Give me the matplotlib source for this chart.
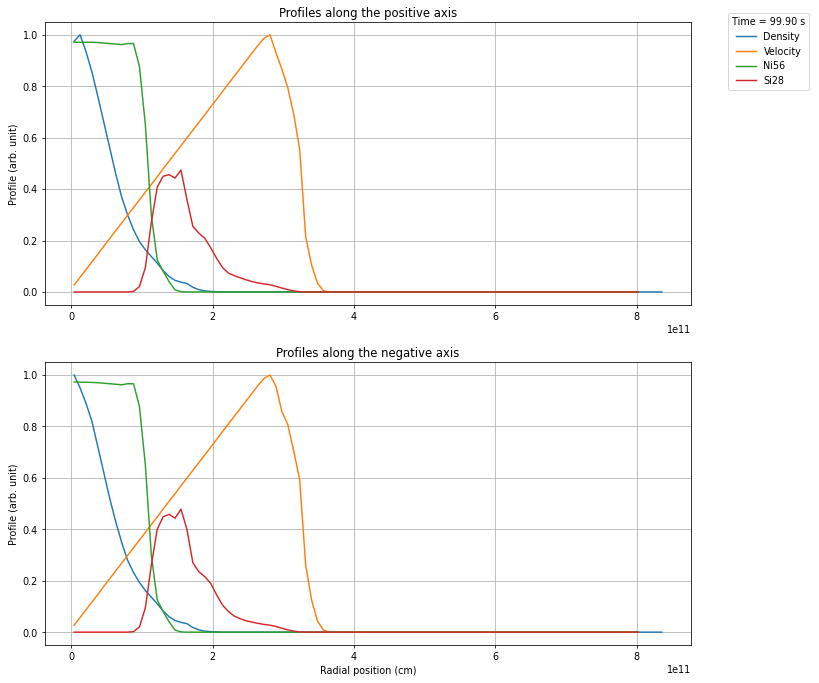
import numpy as np
import matplotlib
matplotlib.use("Agg")
import matplotlib.pyplot as plt

# ---------------- data ----------------
dr = 8.4e9  # radial cell size (cm)
r_density = (np.arange(100) + 0.5) * dr
r_species = (np.arange(96) + 0.5) * dr

dens_pos = [0.975, 1.0, 0.935, 0.855, 0.76, 0.66, 0.56, 0.46, 0.37, 0.30,
            0.242, 0.196, 0.164, 0.138, 0.112, 0.083, 0.060, 0.045, 0.038, 0.033,
            0.018, 0.009, 0.004, 0.002, 0.001] + [0.0] * 75
dens_neg = [1.0, 0.95, 0.89, 0.82, 0.72, 0.62, 0.52, 0.43, 0.35, 0.28,
            0.232, 0.193, 0.162, 0.136, 0.110, 0.082, 0.060, 0.045, 0.038, 0.033,
            0.018, 0.009, 0.004, 0.002, 0.001] + [0.0] * 75

vel_rise = [0.027, 0.057, 0.087, 0.117, 0.147, 0.178, 0.208, 0.238, 0.268, 0.298,
            0.328, 0.358, 0.388, 0.418, 0.448, 0.479, 0.509, 0.539, 0.569, 0.599,
            0.629, 0.659, 0.689, 0.719, 0.749, 0.780, 0.810, 0.840, 0.870, 0.900,
            0.930, 0.960, 0.987, 1.0]
vel_pos = vel_rise + [0.930, 0.866, 0.793, 0.690, 0.553, 0.215, 0.105, 0.034, 0.005] + [0.0] * 53
vel_neg = vel_rise + [0.956, 0.858, 0.806, 0.703, 0.592, 0.261, 0.125, 0.043, 0.008] + [0.0] * 53

ni_pos = [0.971, 0.971, 0.971, 0.971, 0.970, 0.968, 0.966, 0.964, 0.962, 0.966,
          0.966, 0.877, 0.650, 0.300, 0.125, 0.080, 0.040, 0.008, 0.001] + [0.0] * 77
ni_neg = [0.973, 0.972, 0.972, 0.971, 0.970, 0.968, 0.966, 0.964, 0.962, 0.966,
          0.966, 0.878, 0.650, 0.300, 0.125, 0.080, 0.040, 0.008, 0.001] + [0.0] * 77

si_pos = [0.0] * 10 + [0.002, 0.021, 0.095, 0.27, 0.408, 0.450, 0.456, 0.443, 0.474, 0.36,
                       0.255, 0.229, 0.209, 0.172, 0.131, 0.095, 0.073, 0.063, 0.055, 0.047,
                       0.040, 0.035, 0.031, 0.028, 0.022, 0.015, 0.009, 0.004, 0.001] + [0.0] * 57
si_neg = [0.0] * 10 + [0.002, 0.020, 0.095, 0.26, 0.400, 0.449, 0.458, 0.443, 0.478, 0.40,
                       0.270, 0.235, 0.216, 0.190, 0.145, 0.105, 0.080, 0.062, 0.052, 0.044,
                       0.039, 0.034, 0.030, 0.027, 0.022, 0.015, 0.009, 0.004, 0.001] + [0.0] * 57

titles = ["Profiles along the positive axis", "Profiles along the negative axis"]
time_label = "Time = 99.90 s"

# ---------------- figure ----------------
DPI = 69.5
fig = plt.figure(figsize=(819.4 / DPI, 683.4 / DPI), dpi=DPI)
ax1 = fig.add_axes([0.0546, 0.5534, 0.789, 0.4139])
ax2 = fig.add_axes([0.0546, 0.0556, 0.789, 0.4139])

panels = [
    (ax1, dens_pos, vel_pos, ni_pos, si_pos, titles[0]),
    (ax2, dens_neg, vel_neg, ni_neg, si_neg, titles[1]),
]
for ax, d, v, n, s, t in panels:
    ax.plot(r_density, d, label="Density")
    ax.plot(r_species, v, label="Velocity")
    ax.plot(r_species, n, label="Ni56")
    ax.plot(r_species, s, label="Si28")
    ax.set_title(t)
    ax.set_ylabel("Profile (arb. unit)")
    ax.grid(True)

ax2.set_xlabel("Radial position (cm)")
ax1.legend(title=time_label, bbox_to_anchor=(1.05, 1.05), loc="upper left")

fig.savefig("out.png", dpi=DPI)
